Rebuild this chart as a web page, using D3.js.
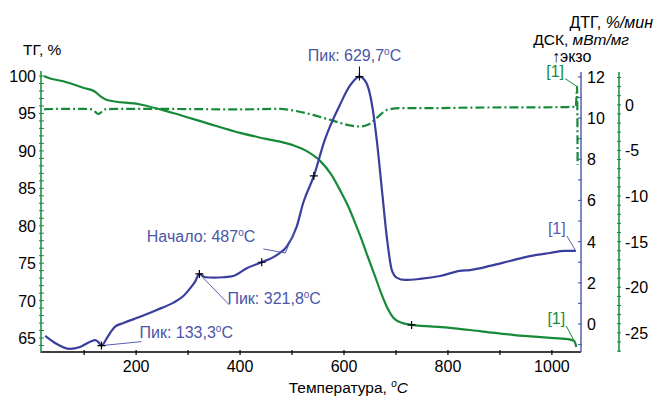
<!DOCTYPE html>
<html>
<head>
<meta charset="utf-8">
<script src="https://cdn.jsdelivr.net/npm/d3@7"></script>
<style>
  html, body { margin: 0; padding: 0; background: #fff; }
  svg { display: block; font-family: "Liberation Sans", Arial, sans-serif; }
</style>
</head>
<body>
<svg id="chart" width="655" height="396"></svg>
<script>
// Thermogravimetry (ТГ), derivative (ДТГ) and DSC (ДСК) curves vs temperature
const tgTemp = [23, 28, 60, 100, 121, 131, 144, 208, 271, 336, 400, 450, 500, 530, 555, 575, 595, 610, 620, 632, 645, 660, 672, 685, 695, 705, 730, 800, 864, 928, 992, 1030, 1043, 1047];
const tgValue = [100.0, 99.83, 99.3, 98.4, 97.9, 97.3, 96.8, 96.2, 95.06, 93.7, 92.4, 91.6, 90.8, 89.9, 88.6, 86.9, 84.4, 82.3, 80.6, 78.5, 76.0, 73.2, 70.9, 68.8, 67.7, 67.2, 66.75, 66.4, 65.9, 65.4, 65.05, 64.85, 64.6, 63.8];

const dtgTemp = [23, 28, 60, 100, 115, 122, 127.5, 133, 140, 160, 250, 400, 477, 510, 540, 573, 606, 631, 646, 663, 683, 708, 765, 850, 950, 1030, 1040, 1044, 1046, 1047, 1048.5, 1049.5];
const dtgValue = [-0.5, -0.47, -0.45, -0.45, -0.5, -0.8, -0.99, -0.8, -0.5, -0.45, -0.45, -0.5, -0.44, -0.7, -1.1, -1.64, -2.19, -2.38, -2.19, -1.43, -0.55, -0.36, -0.36, -0.3, -0.28, -0.25, -0.2, -0.3, -0.25, 0.5, 2.0, -6.6];

const dscTemp = [25, 44, 73, 92, 111.5, 121, 127, 133.3, 143.7, 152, 159.6, 175.6, 207.7, 239.8, 271.7, 291, 303.8, 313.5, 321.8, 332.7, 350, 367.9, 387, 412.9, 441.7, 470.6, 489.8, 509, 521.7, 542, 563, 592, 612, 629.7, 642, 654, 663, 673, 683, 692, 702, 717, 746, 785, 823, 842, 881, 919, 958, 996, 1025, 1046];
const dscValue = [-0.58, -0.92, -1.21, -1.12, -0.86, -0.78, -0.87, -1.05, -0.69, -0.36, -0.13, 0.05, 0.35, 0.68, 1.04, 1.36, 1.73, 2.06, 2.43, 2.27, 2.25, 2.27, 2.33, 2.71, 3.0, 3.35, 3.76, 4.73, 5.9, 7.19, 8.94, 10.64, 11.6, 12.02, 11.76, 10.64, 8.94, 6.5, 4.08, 2.62, 2.24, 2.14, 2.19, 2.33, 2.58, 2.62, 2.82, 3.06, 3.3, 3.45, 3.55, 3.55];

// Axis ticks and labels
const xTicks = [100, 200, 300, 400, 500, 600, 700, 800, 900, 1000];
const xLabels = [200, 400, 600, 800, 1000];
const tgLabels = [65, 70, 75, 80, 85, 90, 95, 100];
const dscLabels = [0, 2, 4, 6, 8, 10, 12];
const dtgLabels = [-25, -20, -15, -10, -5, 0];

// Marked events on the DSC curve
const dscPeaks = [133.3, 321.8, 629.7];
const dscOnset = 487;
const dscCrossMarks = [441.7, 542];
const tgCrossMarks = [730];

const GREEN = "#178a3a";
const BLUE = "#3a3e9c";
const BLUE_AXIS = "#5760b4";
const BLUE_TEXT = "#4b56a8";

const svg = d3.select("#chart");

const x = d3.scaleLinear().domain([17, 1056]).range([41, 581]);
const yTG = d3.scaleLinear().domain([63, 100.67]).range([353, 71]);
const yDSC = d3.scaleLinear().domain([-1.36, 12.24]).range([352, 72]);
const yDTG = d3.scaleLinear().domain([-27.1, 3.6]).range([352, 72]);

const interp = (ts, vs, t) => {
  for (let i = 1; i < ts.length; i++) {
    if (t <= ts[i]) {
      const f = (t - ts[i - 1]) / (ts[i] - ts[i - 1]);
      return vs[i - 1] + f * (vs[i] - vs[i - 1]);
    }
  }
  return vs[vs.length - 1];
};

// ---- axes ----
const gx = svg.append("g").attr("transform", "translate(0,352)");
gx.append("line").attr("x1", 41).attr("x2", 581).attr("stroke", "#000").attr("stroke-width", 1.5);
gx.selectAll(".t").data(xTicks).join("line")
  .attr("x1", d => x(d)).attr("x2", d => x(d)).attr("y1", -2).attr("y2", 3)
  .attr("stroke", "#000").attr("stroke-width", 1.2);
gx.selectAll(".l").data(xLabels).join("text")
  .attr("x", d => x(d)).attr("y", 20).attr("text-anchor", "middle")
  .attr("font-size", 16).attr("fill", "#000").text(d => d);

const xTitle = svg.append("text").attr("x", 408).attr("y", 393).attr("text-anchor", "end")
  .attr("font-size", 15.5).attr("fill", "#000");
xTitle.append("tspan").text("Температура, ");
xTitle.append("tspan").attr("font-style", "italic").attr("font-size", 10).attr("dy", -6).text("o");
xTitle.append("tspan").attr("font-style", "italic").attr("dy", 6).text("C");

// Left TG axis (green)
const gL = svg.append("g");
gL.append("line").attr("x1", 41).attr("x2", 41).attr("y1", 71).attr("y2", 353)
  .attr("stroke", GREEN).attr("stroke-width", 1.5);
gL.selectAll("line.t").data(d3.range(64, 101)).join("line").attr("class", "t")
  .attr("x1", 39).attr("x2", 44).attr("y1", d => yTG(d)).attr("y2", d => yTG(d))
  .attr("stroke", GREEN).attr("stroke-width", 1);
gL.selectAll("text").data(tgLabels).join("text")
  .attr("x", 36).attr("y", d => yTG(d) + 6).attr("text-anchor", "end")
  .attr("font-size", 16).attr("fill", "#000").text(d => d);
svg.append("text").attr("x", 23).attr("y", 55).attr("font-size", 15.5).attr("fill", "#000").text("ТГ, %");

// Right DSC axis (blue)
const gB = svg.append("g");
gB.append("line").attr("x1", 581).attr("x2", 581).attr("y1", 72).attr("y2", 352)
  .attr("stroke", BLUE_AXIS).attr("stroke-width", 1.5);
gB.selectAll("line.t").data(d3.range(-1, 13)).join("line").attr("class", "t")
  .attr("x1", 578).attr("x2", 582).attr("y1", d => yDSC(d)).attr("y2", d => yDSC(d))
  .attr("stroke", BLUE_AXIS).attr("stroke-width", 1.2);
gB.selectAll("text").data(dscLabels).join("text")
  .attr("x", 587).attr("y", d => yDSC(d) + 6)
  .attr("font-size", 16).attr("fill", "#000").text(d => d);

// Far right DTG axis (green)
const gG = svg.append("g");
gG.append("line").attr("x1", 619).attr("x2", 619).attr("y1", 72).attr("y2", 352)
  .attr("stroke", GREEN).attr("stroke-width", 1.5);
gG.selectAll("line.t").data(d3.range(-27, 4)).join("line").attr("class", "t")
  .attr("x1", 617).attr("x2", 621).attr("y1", d => yDTG(d)).attr("y2", d => yDTG(d))
  .attr("stroke", GREEN).attr("stroke-width", 1);
gG.selectAll("text").data(dtgLabels).join("text")
  .attr("x", 625).attr("y", d => yDTG(d) + 6)
  .attr("font-size", 16).attr("fill", "#000").text(d => d);

// Right-hand titles
const t1 = svg.append("text").attr("x", 653).attr("y", 28).attr("text-anchor", "end").attr("font-size", 16).attr("fill", "#000");
t1.append("tspan").text("ДТГ, ");
t1.append("tspan").attr("font-style", "italic").text("%/мин");
const t2 = svg.append("text").attr("x", 629).attr("y", 45).attr("text-anchor", "end").attr("font-size", 15.5).attr("fill", "#000");
t2.append("tspan").text("ДСК, ");
t2.append("tspan").attr("font-style", "italic").text("мВт/мг");
svg.append("text").attr("x", 552).attr("y", 62).attr("font-size", 16).attr("fill", "#000").text("↑экзо");

// ---- curves ----
const zip = (ts, vs) => ts.map((t, i) => [t, vs[i]]);
const lineFor = (ys) => d3.line().x(d => x(d[0])).y(d => ys(d[1])).curve(d3.curveMonotoneX);

svg.append("path").datum(zip(dtgTemp, dtgValue))
  .attr("d", lineFor(yDTG)).attr("fill", "none").attr("stroke", GREEN)
  .attr("stroke-width", 2.2).attr("stroke-dasharray", "9,3,2,3");

svg.append("path").datum(zip(tgTemp, tgValue))
  .attr("d", lineFor(yTG)).attr("fill", "none").attr("stroke", GREEN).attr("stroke-width", 2.2);

svg.append("path").datum(zip(dscTemp, dscValue))
  .attr("d", lineFor(yDSC)).attr("fill", "none").attr("stroke", BLUE).attr("stroke-width", 2.2);

// ---- annotations ----
const cross = (cx, cy) => {
  svg.append("path").attr("d", `M${cx - 4},${cy}H${cx + 4}M${cx},${cy - 4}V${cy + 4}`)
    .attr("stroke", "#000").attr("stroke-width", 1.2);
};
const degLabel = (tx, ty, prefix, anchor) => {
  const t = svg.append("text").attr("x", tx).attr("y", ty).attr("font-size", 16)
    .attr("fill", BLUE_TEXT).attr("text-anchor", anchor || "start");
  t.append("tspan").text(prefix);
  t.append("tspan").attr("font-size", 10).attr("dy", -6).text("o");
  t.append("tspan").attr("dy", 6).text("C");
  return t;
};
const fmt = v => v.toString().replace(".", ",");

// Peak at 133.3
{
  const t = dscPeaks[0], px = x(t), py = yDSC(interp(dscTemp, dscValue, t));
  svg.append("line").attr("x1", px).attr("y1", py).attr("x2", px + 40).attr("y2", py - 4)
    .attr("stroke", BLUE_AXIS).attr("stroke-width", 1);
  degLabel(px + 38, py - 8, "Пик: " + fmt(t));
  cross(px, py);
}
// Peak at 321.8
{
  const t = dscPeaks[1], px = x(t), py = yDSC(interp(dscTemp, dscValue, t));
  svg.append("line").attr("x1", px).attr("y1", py).attr("x2", px + 30).attr("y2", py + 31)
    .attr("stroke", BLUE_AXIS).attr("stroke-width", 1);
  degLabel(px + 28, py + 30, "Пик: " + fmt(t));
  cross(px, py);
}
// Peak at 629.7
{
  const t = dscPeaks[2], px = x(t), py = yDSC(interp(dscTemp, dscValue, t));
  svg.append("line").attr("x1", px).attr("y1", py - 10).attr("x2", px).attr("y2", py)
    .attr("stroke", "#000").attr("stroke-width", 1);
  degLabel(px - 5, py - 16, "Пик: " + fmt(t), "middle");
  cross(px, py);
}
// Onset at 487: baseline extrapolation meets the tangent of the rising edge
{
  const base = interp(dscTemp, dscValue, dscCrossMarks[0]);
  const ox = x(dscOnset), oy = yDSC(base + 0.45);
  const tx = x(505), ty = yDSC(interp(dscTemp, dscValue, 505));
  svg.append("line").attr("x1", ox - 22).attr("y1", oy - 4).attr("x2", ox).attr("y2", oy)
    .attr("stroke", BLUE_AXIS).attr("stroke-width", 1);
  svg.append("line").attr("x1", ox).attr("y1", oy).attr("x2", tx).attr("y2", ty)
    .attr("stroke", BLUE_AXIS).attr("stroke-width", 1);
  degLabel(ox - 30, oy - 11, "Начало: " + dscOnset, "end");
}
dscCrossMarks.forEach(t => cross(x(t), yDSC(interp(dscTemp, dscValue, t))));
tgCrossMarks.forEach(t => cross(x(t), yTG(interp(tgTemp, tgValue, t))));

// Curve end markers "[1]"
const endMark = (lx, ly, ex, ey, color) => {
  svg.append("text").attr("x", lx).attr("y", ly).attr("font-size", 16)
    .attr("fill", color).attr("text-anchor", "middle").text("[1]");
  svg.append("line").attr("x1", lx + 10).attr("y1", ly + 2).attr("x2", ex).attr("y2", ey)
    .attr("stroke", color).attr("stroke-width", 1);
};
{
  const tEnd = dtgTemp[dtgTemp.length - 2];
  endMark(x(tEnd) - 22, yDTG(dtgValue[dtgValue.length - 2]) - 10, x(tEnd), yDTG(dtgValue[dtgValue.length - 2]), GREEN);
  const dEnd = dscTemp[dscTemp.length - 1];
  endMark(x(dEnd) - 19, yDSC(dscValue[dscValue.length - 1]) - 17, x(dEnd), yDSC(dscValue[dscValue.length - 1]), BLUE_AXIS);
  const gEnd = tgTemp[tgTemp.length - 1];
  endMark(x(gEnd) - 20, yTG(tgValue[tgValue.length - 1]) - 23, x(gEnd), yTG(tgValue[tgValue.length - 1]) - 2, GREEN);
}
</script>
</body>
</html>
